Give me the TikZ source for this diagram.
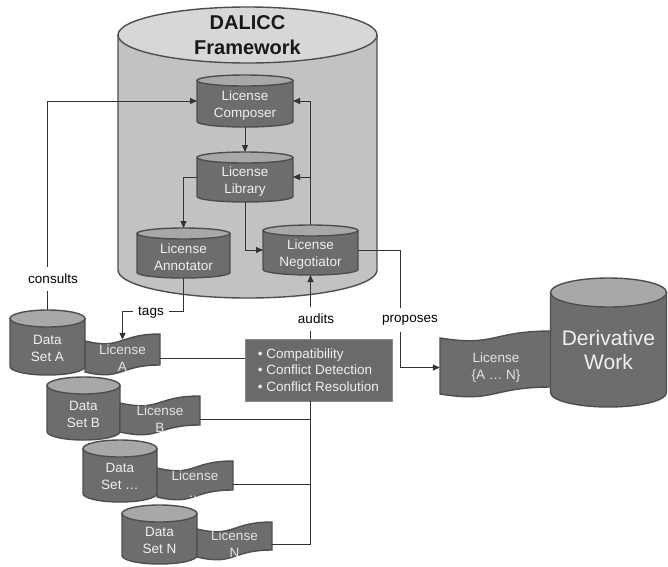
\documentclass[tikz,border=0pt]{standalone}
\usepackage{fontspec}
\setmainfont{Liberation Sans}
\usetikzlibrary{arrows.meta}

\definecolor{darkbody}{HTML}{6D6D6D}
\definecolor{darktop}{HTML}{A8A8A8}
\definecolor{paleface}{HTML}{C2C2C2}
\definecolor{paletop}{HTML}{D7D7D7}
\definecolor{rimgray}{HTML}{4E4E4E}
\definecolor{wiregray}{HTML}{333333}
\definecolor{inktext}{HTML}{F0F0F0}
\definecolor{boxfill}{HTML}{6A6A6A}

\tikzset{
  darkcyl/.style={fill=darkbody, draw=rimgray, line width=1.4pt},
  darkcyltop/.style={fill=darktop, draw=rimgray, line width=1.4pt},
  darktext/.style={text=inktext, align=center, inner sep=0pt, font=\fontsize{13.5}{17}\selectfont},
  palecyl/.style={fill=paleface, draw=rimgray, line width=1.4pt},
  palecyltop/.style={fill=paletop, draw=rimgray, line width=1.4pt},
  paletext/.style={darktext},
  bigcyl/.style={darkcyl},
  bigcyltop/.style={darkcyltop},
  bigtext/.style={darktext, font=\fontsize{21}{24}\selectfont},
  hull/.style={inner sep=0pt, outer sep=0pt},
  flagshape/.style={fill=darkbody, draw=rimgray, line width=1.4pt},
  flagtext/.style={darktext, text=inktext!95!black, minimum height=36pt},
  checkbox/.style={fill=boxfill, draw=boxfill!80!white, line width=0.8pt, text=inktext,
    align=left, inner sep=0pt, minimum width=147pt, minimum height=62pt,
    font=\fontsize{13.5}{16.5}\selectfont},
  conn/.style={draw=wiregray, line width=1pt},
  arr/.style={conn, -{Triangle[length=7pt,width=6pt]}},
  lbl/.style={fill=white, text=black, inner xsep=2pt, inner ysep=7pt,
    font=\fontsize{13.5}{16}\selectfont},
}

% cylinder: style, name, centre x, top y, bottom y, x radius, y radius, text
\newcommand{\dbcyl}[8]{%
  \filldraw[#1cyl] ({#3-#6},{#4+#7}) -- ({#3-#6},{#5-#7})
    arc[start angle=180, end angle=0, x radius=#6, y radius=#7]
    -- ({#3+#6},{#4+#7}) -- cycle;
  \filldraw[#1cyltop] (#3,{#4+#7}) ellipse[x radius=#6, y radius=#7];
  \node[hull, minimum width={2*#6}, minimum height={#5-#4}] (#2) at (#3,{(#4+#5)/2}) {};
  \node[#1text] (#2-txt) at ([yshift={-0.3*#7-3}]#2.center) {#8};
}

% wavy licence sheet: name, left x, right x, top y, bottom y, text
\newcommand{\licflag}[6]{%
  \filldraw[flagshape] (#2,#4)
    .. controls ({#2+0.5*(#3-#2)},{#4+9}) and ({#2+0.45*(#3-#2)},{#4-7}) .. (#3,{#4-7})
    -- (#3,{#5-7})
    .. controls ({#2+0.45*(#3-#2)},{#5-7}) and ({#2+0.5*(#3-#2)},{#5+9}) .. (#2,#5)
    -- cycle;
  \node[flagtext, minimum width={#3-#2}] (#1) at ({(#2+#3)/2},{(#4+#5)/2+1.5}) {#6};
}

\begin{document}
\begin{tikzpicture}[x=1pt, y=-1pt]
  \useasboundingbox[fill=white] (0,0) rectangle (668,566);

  % framework
  \dbcyl{pale}{fw}{247.5}{7}{298}{129.5}{28}{}
  \node[font=\bfseries\fontsize{20}{25}\selectfont, align=center, text=black!90] (fw-title)
    at (247.5,35.5) {DALICC\\Framework};

  \dbcyl{dark}{comp}{245}{75}{127}{48}{5.5}{License\\Composer}
  \dbcyl{dark}{lib}{245}{152}{202}{48}{5.5}{License\\Library}
  \dbcyl{dark}{annot}{183.5}{228}{278}{46.5}{5.5}{License\\Annotator}
  \dbcyl{dark}{negot}{310.5}{225}{275}{47.5}{5.5}{License\\Negotiator}

  % data sets and their licences
  \dbcyl{dark}{dsA}{47.5}{310}{375}{37.5}{8.5}{Data\\Set A}
  \licflag{licA}{85}{160}{341}{372}{License\\A}
  \dbcyl{dark}{dsB}{83.5}{377}{440}{36.5}{8.5}{Data\\Set B}
  \licflag{licB}{120}{200}{403}{432}{License\\B}
  \dbcyl{dark}{dsC}{120}{440}{502}{37}{8.5}{Data\\Set …}
  \licflag{licC}{157}{233}{468}{497}{License\\…}
  \dbcyl{dark}{dsN}{159.5}{505}{564}{37.5}{8.5}{Data\\Set N}
  \licflag{licN}{197}{272}{529}{557}{License\\N}

  % derivative work
  \licflag{licAN}{440}{552}{338}{394}{License\\\{A … N\}}
  \dbcyl{big}{deriv}{608.5}{278}{407}{58}{14.5}{Derivative\\Work}

  \node[checkbox] (checks) at (318.5,370)
    {• Compatibility\\• Conflict Detection\\• Conflict Resolution};

  \coordinate (prop) at (400,300);
  \coordinate (tagsrow) at (0,311);

  % connectors
  \draw[arr] (dsA.north) |- (comp.west);
  \draw[arr] (comp.south) -- (lib.north);
  \draw[arr] (lib.west) -| (annot.north);
  \draw[arr] (lib.south) |- (negot.west);
  \draw[arr] (negot.north) |- (comp.east);
  \draw[arr] (negot.north |- lib.east) -- (lib.east);
  \draw[arr] (negot.east) -- (negot.east -| prop) |- (licAN.west);
  \draw[arr] (annot.south) -- (annot.south |- tagsrow) -| (licA.north);
  \draw[arr] (negot.south |- checks.north) -- (negot.south);
  \draw[conn] (licA.east) -- (licA.east -| checks.west);
  \draw[conn] (negot.south |- checks.south) |- (licN.east);
  \draw[conn] (licB.east) -- (licB.east -| negot.south);
  \draw[conn] (licC.east) -- (licC.east -| negot.south);

  % labels
  \node[lbl] (consults) at (53,279) {consults};
  \node[lbl, inner xsep=5pt] (tags) at (151,313) {tags};
  \node[lbl] (audits) at (316,319) {audits};
  \node[lbl] (proposes) at (410,320) {proposes};
\end{tikzpicture}
\end{document}
